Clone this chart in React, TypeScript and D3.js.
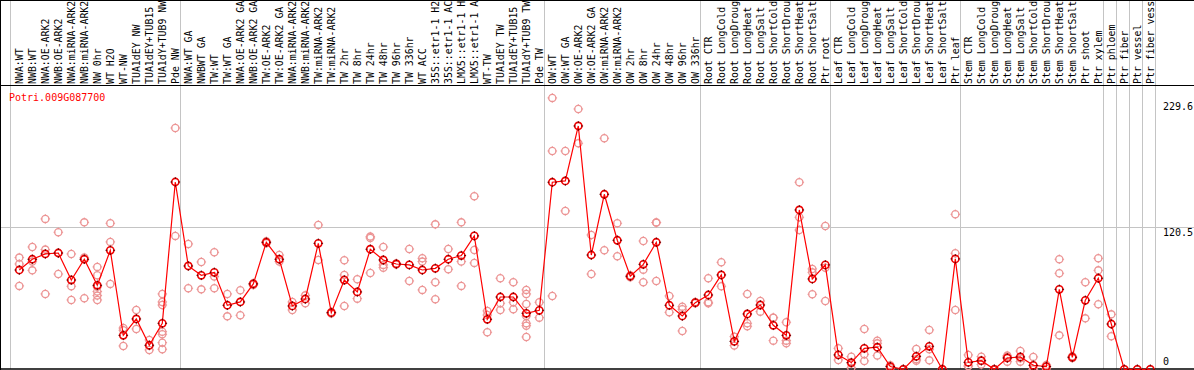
import React from "react";
import * as d3 from "d3";

const geneId = "Potri.009G087700";

// column labels as visible in the label strip (at most 14 characters fit)
const labels: string[] = [
  "NWA:WT", "NWB:WT", "NWA:OE-ARK2", "NWB:OE-ARK2", "NWA:miRNA-ARK2", "NWB:miRNA-ARK2", "NW 0hr", "WT H2O", "WT-NW", "TUA1dEY NW", "TUA1dEY+TUB15", "TUA1dY+TUB9 NW", "Pde NW",
  "NWA:WT GA", "NWBWT GA", "TW:WT", "TW:WT GA", "NWA:OE-ARK2 GA", "NWB:OE-ARK2 GA", "TW:OE-ARK2", "TW:OE-ARK2 GA", "NWA:miRNA-ARK2", "NWB:miRNA-ARK2", "TW:miRNA-ARK2", "TW:miRNA-ARK2",
  "TW 2hr", "TW 8hr", "TW 24hr", "TW 48hr", "TW 96hr", "TW 336hr", "WT ACC", "35S::etr1-1 H2", "35S::etr1-1 AC", "LMX5::etr1-1 H", "LMX5::etr1-1 A", "WT-TW", "TUA1dEY TW", "TUA1dEY+TUB15", "TUA1dY+TUB9 TW", "Pde TW",
  "OW:WT", "OW:WT GA", "OW:OE-ARK2", "OW:OE-ARK2 GA", "OW:miRNA-ARK2", "OW:miRNA-ARK2", "OW 2hr", "OW 8hr", "OW 24hr", "OW 48hr", "OW 96hr", "OW 336hr",
  "Root CTR", "Root LongCold", "Root LongDroug", "Root LongHeat", "Root LongSalt", "Root ShortCold", "Root ShortDrou", "Root ShortHeat", "Root ShortSalt", "Ptr root",
  "Leaf CTR", "Leaf LongCold", "Leaf LongDroug", "Leaf LongHeat", "Leaf LongSalt", "Leaf ShortCold", "Leaf ShortDrou", "Leaf ShortHeat", "Leaf ShortSalt", "Ptr leaf",
  "Stem CTR", "Stem LongCold", "Stem LongDroug", "Stem LongHeat", "Stem LongSalt", "Stem ShortCold", "Stem ShortDrou", "Stem ShortHeat", "Stem ShortSalt", "Ptr shoot", "Ptr xylem",
  "Ptr phloem", "Ptr fiber", "Ptr vessel", "Ptr fiber vess",
];

const means: number[] = [
  84.2, 93.3, 97.8, 98.6, 75.7, 93.3, 71.2, 100.9, 28.8, 42.7, 20.4, 39, 158.8,
  87.6, 79.7, 82.2, 54.3, 57.1, 72.4, 107.7, 93.3, 53.7, 59.6, 106.8, 48, 75.7, 65.6, 101.8, 92.7, 89.3, 88.5, 84.2, 85.6, 93.3, 96.4, 113.1, 42.4, 61.3, 61.3, 47.5, 50,
  158.6, 159.7, 206.3, 96.9, 148.4, 109.4, 78.9, 89, 107.7, 54.3, 45.2, 56.5,
  63, 80, 23.7, 46.9, 54.5, 37.3, 28.8, 135.1, 76.6, 88.5,
  12.2, 5.7, 17.8, 18.7, 2.3, 0, 11, 19.5, 0, 93.6,
  5.9, 7.3, 0, 9.6, 10.5, 3.4, 2.3, 67.8, 10.2, 58.5, 77.2,
  38.4, 0, 0, 0,
];

const samples: number[][] = [
  [94.7, 89.3, 70.7], [103.7, 91.3, 83.9], [127.5, 101.5, 63.9], [116.2, 98.6, 80.8], [97.8, 70.4, 58.8], [124.6, 94.7, 60.2],
  [86.8, 79.7, 70, 65.9, 62.5, 58.8], [123.8, 108, 72.4], [35, 33.1, 19.8], [50.3, 34.2], [24.9, 20, 16.4],
  [63.9, 57.1, 54.5, 31.9, 29.7, 22.6, 17], [204.6, 113.1],
  [106.3, 68.7], [91, 67.8], [99.2, 78.6, 68.7], [63.9, 44.9], [67, 45.8], [73, 72.4, 71.5], [108.5, 107.7, 106.9], [96.9, 91.3],
  [57.1, 50.3], [62.7, 56], [122.4, 92.7], [48.6, 48, 47.4], [92.4, 80, 53.7], [76.3, 59.9], [112.5, 111.4, 81.7], [103.7, 88.5, 86.2],
  [89.8, 89.3, 88.8], [102, 74.9], [94.1, 91.3, 67.3], [122.9, 73.8, 59.4], [102, 84.8], [124.6, 91.3, 70.7], [146.7, 101.2, 90.2],
  [49.5, 46, 31.4], [77.2, 56, 50.3], [73.8, 56.8, 50.9], [67.3, 63.9, 55.4, 45.2, 39, 37, 27.4], [56.8, 43.8],
  [230.1, 185.1, 62.2], [185.1, 134.3], [220.7, 191.6], [113.9, 80.8], [195.9, 100.9], [123.8, 95.8], [79.8, 78.9, 78],
  [108.8, 84.5, 73.8], [124.4, 124.4, 74.9], [62.2, 48.3], [53.1, 50.9, 32.5], [57, 56.5, 56],
  [77.2, 56.8, 56], [90.7, 70.4], [27.7, 20.1], [63.9, 39, 36.5], [57.9, 48.9], [43.8, 43.8, 24.3], [39.9, 24.3, 22],
  [158.6, 128.9, 118.1], [85.1, 82.2, 63.6], [121.5, 86.2, 57.9],
  [17.8, 7.9], [10.7, 5, 1.2], [34.2, 12.7, 7.1], [24.3, 22, 11.6], [3.4, 2.5, 1], [0, 0, 0], [17.2, 8.5, 7.3], [33.4, 17, 7.6], [0, 0, 0],
  [131.4, 98.4, 50.3],
  [12.2, 2.8, 2.8], [10.7, 7.3, 4], [0, 0, 0], [11.6, 10.7, 6.5], [15.5, 9.3, 6.5], [10.5, 0, 0], [3.7, 2.5, 0.5], [93.3, 81.4, 28.8],
  [11, 10.2, 9.5], [73.8, 43.2], [94.1, 83.9, 55.1],
  [46.6, 28], [0], [0], [0],
];

// last column index of each group (a separator line is drawn after it)
const groupEnds: number[] = [12, 40, 52, 62, 72, 83, 84, 85, 86, 87];
const yTicks: number[] = [229.6, 120.5, 0];

const W = 1194;
const H = 370;
const FONT = "'DejaVu Sans Mono', monospace";

function Marker({ cx, cy, stroke, tick, sw }: { cx: number; cy: number; stroke: string; tick: string; sw: number }) {
  const r = 3.6;
  return (
    <g>
      <circle cx={cx} cy={cy} r={r} fill="none" stroke={stroke} strokeWidth={sw} />
      <line x1={cx} y1={cy - r - 1.2} x2={cx} y2={cy - r + 0.6} stroke={tick} strokeWidth={1} />
      <line x1={cx} y1={cy + r - 0.6} x2={cx} y2={cy + r + 1.2} stroke={tick} strokeWidth={1} />
      <line x1={cx - r - 1.2} y1={cy} x2={cx - r + 0.6} y2={cy} stroke={tick} strokeWidth={1} />
      <line x1={cx + r - 0.6} y1={cy} x2={cx + r + 1.2} y2={cy} stroke={tick} strokeWidth={1} />
    </g>
  );
}

export default function App() {
  const n = labels.length;
  const x = d3.scaleLinear().domain([0, n - 1]).range([19.3, 19.3 + (n - 1) * 13]);
  const y = d3.scaleLinear().domain([0, 229.6]).range([369.3, 98.5]);
  const line = d3
    .line<number>()
    .x((_, i) => x(i))
    .y((d) => y(d));

  const sepXs = [x(0) - 9, ...groupEnds.map((i) => x(i) + 5)];
  const tickDy = [11.5, 9, -4];

  return (
    <svg
      width={W}
      height={H}
      style={{ position: "absolute", left: 0, top: 0, background: "#fff" }}
      fontFamily={FONT}
    >
      <rect x={0} y={0} width={W} height={H} fill="#fff" />
      {/* vertical group separators */}
      {sepXs.map((sx, i) => (
        <line key={"v" + i} x1={Math.round(sx) + 0.5} x2={Math.round(sx) + 0.5} y1={0} y2={369} stroke="#c4c4c4" strokeWidth={1} />
      ))}
      {/* horizontal gridline at the middle tick */}
      <line x1={0} x2={W} y1={Math.round(y(120.5)) + 0.5} y2={Math.round(y(120.5)) + 0.5} stroke="#c4c4c4" strokeWidth={1} />
      {/* frame */}
      <line x1={0} x2={W} y1={0.5} y2={0.5} stroke="#000" strokeWidth={1} />
      <line x1={0.5} x2={0.5} y1={0} y2={370} stroke="#000" strokeWidth={1} />
      <line x1={0} x2={W} y1={85.5} y2={85.5} stroke="#000" strokeWidth={1} />
      <line x1={0} x2={W} y1={369} y2={369} stroke="#000" strokeWidth={1.5} />

      {/* column labels */}
      {labels.map((lab, i) => (
        <text
          key={"l" + i}
          transform={`translate(${x(i) + 3.8},84) rotate(-90)`}
          fontSize={9.9}
          fill="#000"
        >
          {lab}
        </text>
      ))}

      {/* y tick labels */}
      {yTicks.map((t, i) => (
        <text key={"t" + i} x={1163} y={y(t) + tickDy[i]} fontSize={10} fill="#000">
          {String(t)}
        </text>
      ))}

      {/* gene id */}
      <text x={9} y={101} fontSize={10} fill="#ff0000">
        {geneId}
      </text>

      {/* replicate samples */}
      {samples.map((arr, i) =>
        arr.map((v, j) => (
          <Marker key={`s${i}-${j}`} cx={x(i)} cy={y(v)} stroke="#ec9494" tick="#ec9494" sw={1.3} />
        ))
      )}

      {/* mean line */}
      <path d={line(means) || ""} fill="none" stroke="#ff0000" strokeWidth={1.2} />

      {/* mean markers */}
      {means.map((v, i) => (
        <Marker key={"m" + i} cx={x(i)} cy={y(v)} stroke="#ee0000" tick="#550000" sw={1.6} />
      ))}
    </svg>
  );
}
